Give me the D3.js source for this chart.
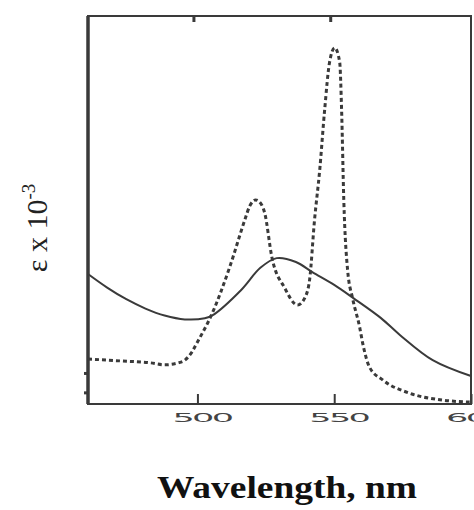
<!DOCTYPE html>
<html>
<head>
<meta charset="utf-8">
<script src="https://cdn.jsdelivr.net/npm/d3@7"></script>
<style>
  body { margin: 0; background: #fff; }
  svg { display: block; }
</style>
</head>
<body>
<svg id="chart"></svg>
<script>
// wavelength (nm) and relative epsilon
const solidWl = [460, 467, 474, 481, 488, 495.4, 502.7, 505.6, 516, 523, 529, 536, 542, 550, 557, 567, 574, 586, 600];
const solidEps = [33.5, 30.0, 27.0, 24.6, 22.8, 21.8, 22.1, 22.9, 29.4, 35.1, 37.6, 36.6, 34.0, 30.7, 27.3, 22.2, 17.8, 11.3, 7.2];

const dotWl = [460, 472, 483, 488, 493, 495.4, 498, 499.8, 505.3, 511.8, 517.3, 519.1, 521.3, 523.5, 524.6, 527.2, 531.9, 536.6, 539.2, 541, 542.8, 544.7, 546.5, 548.3, 550.2, 552, 552.7, 553.5, 554.9, 556.7, 559.3, 560.4, 562.9, 567.7, 577.5, 589.6, 599.5];
const dotEps = [11.6, 11.1, 10.6, 10.1, 10.6, 11.3, 13.4, 15.7, 23.2, 35.3, 47.4, 51.0, 52.6, 51.3, 49.2, 37.9, 29.9, 25.5, 27.3, 32.0, 47.4, 60.3, 75.8, 88.1, 91.8, 88.1, 75.8, 52.6, 34.5, 27.3, 19.8, 15.7, 9.5, 6.2, 2.8, 1.0, 0.5];

const xTicks = [500, 550, 600];
const topTicks = [500, 550];
const leftMinor = [3, 8];

const width = 474;
const height = 510;
const margin = { top: 16, right: 3, bottom: 106, left: 88 };
const ink = '#3a3a3a';

const svg = d3.select('#chart')
  .attr('width', width)
  .attr('height', height);

const x = d3.scaleLinear()
  .domain([460, 600])
  .range([margin.left, width - margin.right]);

const y = d3.scaleLinear()
  .domain([0, 100])
  .range([height - margin.bottom, margin.top]);

const solid = solidWl.map((w, i) => ({ w, e: solidEps[i] }));
const dotted = dotWl.map((w, i) => ({ w, e: dotEps[i] }));

const line = d3.line()
  .x(d => x(d.w))
  .y(d => y(d.e));

// frame
svg.append('rect')
  .attr('x', x(460))
  .attr('y', y(100))
  .attr('width', x(600) - x(460))
  .attr('height', y(0) - y(100))
  .attr('fill', 'none')
  .attr('stroke', ink)
  .attr('stroke-width', 2);

svg.append('line')
  .attr('x1', x(460)).attr('x2', x(460))
  .attr('y1', y(100)).attr('y2', y(0))
  .attr('stroke', ink)
  .attr('stroke-width', 3.5);

// bottom axis
const xAxis = svg.append('g')
  .attr('transform', `translate(0, ${y(0)})`)
  .call(d3.axisBottom(x)
    .tickValues(xTicks)
    .tickSize(-10)
    .tickSizeOuter(0)
    .tickPadding(9)
    .tickFormat(d3.format('d')));

xAxis.select('.domain').remove();
xAxis.selectAll('line').attr('stroke', ink).attr('stroke-width', 2);
// the scanned labels are squat and wide: stretch them sideways
xAxis.selectAll('text')
  .attr('fill', '#444')
  .attr('font-family', 'DejaVu Sans, sans-serif')
  .attr('font-size', 13)
  .attr('letter-spacing', -1)
  .attr('transform', 'translate(4, 0) scale(2.7, 1)');

// top ticks
const topAxis = svg.append('g')
  .attr('transform', `translate(-4, ${y(100)})`)
  .call(d3.axisTop(x).tickValues(topTicks).tickSize(-6).tickSizeOuter(0).tickFormat(''));
topAxis.select('.domain').remove();
topAxis.selectAll('line').attr('stroke', ink).attr('stroke-width', 3);

// small ticks on the left axis
const leftAxis = svg.append('g')
  .attr('transform', `translate(${x(460)}, 0)`)
  .call(d3.axisLeft(y).tickValues(leftMinor).tickSize(4).tickFormat(''));
leftAxis.select('.domain').remove();
leftAxis.selectAll('line').attr('stroke', ink).attr('stroke-width', 3);

// curves
svg.append('path')
  .datum(solid)
  .attr('fill', 'none')
  .attr('stroke', ink)
  .attr('stroke-width', 2)
  .attr('d', line.curve(d3.curveCatmullRom.alpha(0.5)));

svg.append('path')
  .datum(dotted)
  .attr('fill', 'none')
  .attr('stroke', ink)
  .attr('stroke-width', 3)
  .attr('stroke-dasharray', '4,3')
  .attr('d', line.curve(d3.curveMonotoneX));

// axis titles
svg.append('text')
  .attr('x', 287)
  .attr('y', 498)
  .attr('text-anchor', 'middle')
  .attr('font-family', 'Liberation Serif, Times New Roman, serif')
  .attr('font-weight', 'bold')
  .attr('font-size', 31)
  .attr('textLength', 260)
  .attr('lengthAdjust', 'spacingAndGlyphs')
  .attr('fill', '#111')
  .text('Wavelength, nm');

const yTitle = svg.append('text')
  .attr('transform', 'translate(47, 228) rotate(-90)')
  .attr('text-anchor', 'middle')
  .attr('font-family', 'Liberation Serif, Times New Roman, serif')
  .attr('font-size', 30)
  .attr('fill', '#222');
yTitle.append('tspan').text('ε x 10');
yTitle.append('tspan')
  .attr('dy', -12)
  .attr('font-size', 19)
  .text('-3');
</script>
</body>
</html>
